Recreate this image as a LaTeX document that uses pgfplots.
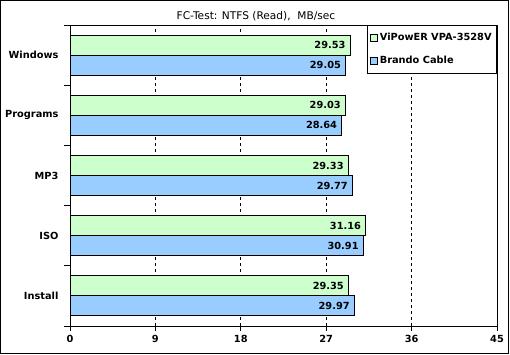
\documentclass[border=0pt]{standalone}
\usepackage{fontspec}
\setmainfont{DejaVu Sans}
\usepackage{pgfplots}
\pgfplotsset{compat=1.18}
\definecolor{vgreen}{HTML}{CCFFCC}
\definecolor{vblue}{HTML}{99CCFF}
\begin{document}
\begin{tikzpicture}[x=1pt,y=1pt]
\path (0,0) rectangle (510,355);
\draw[line width=1pt] (0.5,1.5) rectangle (508.5,354.5);
\node[font=\fontsize{10.6}{12}\selectfont] at (256,339) {FC-Test: NTFS (Read),~~MB/sec};
\begin{axis}[
  at={(70pt,29pt)}, anchor=south west,
  scale only axis, width=427pt, height=301pt,
  xmin=0, xmax=45, ymin=-0.5, ymax=4.5,
  xtick={0,9,18,27,36,45},
  ytick={0,1,2,3,4},
  yticklabels={Install,ISO,MP3,Programs,Windows},
  minor ytick={-0.5,0.5,1.5,2.5,3.5,4.5},
  tick align=outside,
  xtick pos=bottom, ytick pos=left,
  major tick length=5pt,
  minor tick length=6pt,
  every major y tick/.append style={draw opacity=0},
  tick style={black, line width=0.8pt},
  axis line style={line width=0.8pt},
  xmajorgrids,
  major grid style={black, dashed, dash pattern=on 3pt off 3pt, line width=0.8pt},
  /pgf/number format/assume math mode=true,
  ticklabel style={font=\bfseries\fontsize{9.8}{11}\selectfont},
  yticklabel style={xshift=-3pt},
  xticklabel style={yshift=-1pt},
  xbar, bar width=20pt,
  point meta=x,
  nodes near coords={\pgfmathprintnumber[fixed,fixed zerofill,precision=2]{\pgfplotspointmeta}},
  every node near coord/.append style={anchor=east, xshift=-1pt, font=\bfseries\fontsize{9.8}{11}\selectfont, black},
  legend style={at={(1,1)}, anchor=north east, draw=black, line width=0.8pt, fill=white,
    font=\bfseries\fontsize{9.8}{11}\selectfont, row sep=10pt, inner xsep=3pt, inner ysep=6pt},
  legend cell align=left,
  clip=false,
]
\addplot[draw=black, line width=0.8pt, fill=vgreen, bar shift=10pt,
  legend image code/.code={\draw[black, line width=0.6pt, fill=vgreen] (0pt,-3.5pt) rectangle (7pt,3.5pt);}]
  coordinates {(29.35,0) (31.16,1) (29.33,2) (29.03,3) (29.53,4)};
\addlegendentry{ViPowER VPA-3528V}
\addplot[draw=black, line width=0.8pt, fill=vblue, bar shift=-10pt,
  legend image code/.code={\draw[black, line width=0.6pt, fill=vblue] (0pt,-3.5pt) rectangle (7pt,3.5pt);}]
  coordinates {(29.97,0) (30.91,1) (29.77,2) (28.64,3) (29.05,4)};
\addlegendentry{Brando Cable}
\end{axis}
\end{tikzpicture}
\end{document}
